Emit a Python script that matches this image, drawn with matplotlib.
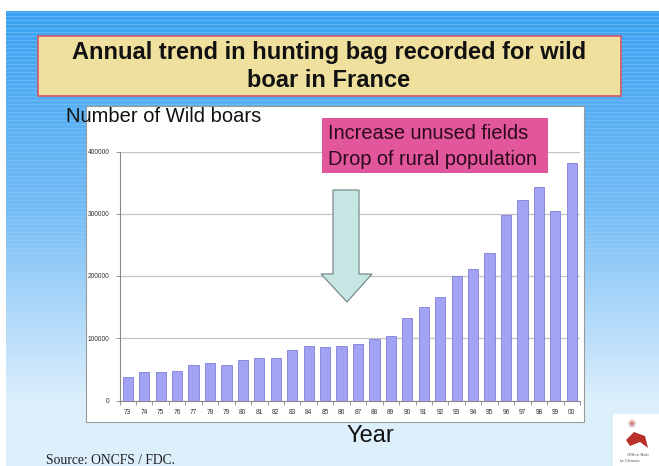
import numpy as np
import matplotlib
matplotlib.use("Agg")
import matplotlib.pyplot as plt
from matplotlib.patches import Rectangle, Polygon

years = ["73", "74", "75", "76", "77", "78", "79", "80", "81", "82", "83", "84", "85", "86",
         "87", "88", "89", "90", "91", "92", "93", "94", "95", "96", "97", "98", "99", "00"]
bag = [37000, 45500, 45500, 47000, 57000, 61000, 57000, 65000, 67500, 69000, 81000, 87500,
       86000, 87500, 90500, 99000, 104000, 132000, 151000, 166000, 200000, 211000, 237000,
       298000, 322000, 343000, 305000, 381000]
yticks = [0, 100000, 200000, 300000, 400000]

W, H = 659, 466
fig = plt.figure(figsize=(W / 100, H / 100), dpi=100)

def fx(x):
    return x / W

def fy(y):
    return 1 - y / H

# background
bg = fig.add_axes([0, 0, 1, 1])
bg.set_xlim(0, W)
bg.set_ylim(H, 0)
bg.axis("off")
img = np.ones((H, W, 3))
top = np.array([0x3a, 0xa2, 0xf1]) / 255
mid = np.array([0x74, 0xbc, 0xf6]) / 255
bot = np.array([0xdc, 0xef, 0xfb]) / 255
for r in range(11, H):
    t = (r - 11) / (400 - 11)
    t = min(t, 1.0)
    if t < 0.5:
        c = top + (mid - top) * (t / 0.5)
    else:
        c = mid + (bot - mid) * ((t - 0.5) / 0.5)
    if r % 4 == 0 and r < 380:
        c = c + (1 - c) * 0.2 * (1 - r / 380)
    img[r, 6:, :] = c
bg.imshow(img, extent=(0, W, H, 0), aspect="auto", interpolation="nearest")

# title box
bg.add_patch(Rectangle((38, 36), 583, 60, facecolor="#efe09d", edgecolor="#d0566a", lw=1.2))
bg.text(329, 66.5, "Annual trend in hunting bag recorded for wild\nboar in France",
        ha="center", va="center", fontsize=17, fontweight="bold",
        family="Liberation Sans", color="#111111", linespacing=1.3)

# white chart box
bg.add_patch(Rectangle((86, 106), 498, 316, facecolor="white", edgecolor="#9a9a9a", lw=0.8))

bg.text(66, 117, "Number of Wild boars", ha="left", va="center", fontsize=14.5,
        family="Liberation Sans", color="#111111")
bg.text(370, 436, "Year", ha="center", va="center", fontsize=17,
        family="Liberation Sans", color="#111111")
bg.text(46, 460, "Source: ONCFS / FDC.", ha="left", va="center", fontsize=9.8,
        family="Liberation Serif", color="#222222")

# logo area
bg.add_patch(Rectangle((613, 414), 46, 52, facecolor="white", edgecolor="none"))
bg.add_patch(Polygon([[626, 440], [634, 432], [645, 436], [648, 448], [640, 442], [630, 446]],
                     closed=True, facecolor="#b8322a", edgecolor="none"))
bg.text(628, 424, "\u2740", fontsize=7, color="#c87070", ha="left", va="center")
bg.text(627, 455, "Office Nati", fontsize=3, color="#555555", ha="left", va="center")
bg.text(620, 461, "la Chasse", fontsize=3, color="#555555", ha="left", va="center")

# chart axes
x0, x1 = 119.5, 580.0
y0, y1 = 400.5, 151.5
ax = fig.add_axes([fx(x0), fy(y0), fx(x1) - fx(x0), fy(y1) - fy(y0)])
ax.set_facecolor("none")
pos = np.arange(len(years))
ax.bar(pos, bag, width=0.62, color="#a3a3f5", edgecolor="#7f7fd6", linewidth=0.6, zorder=3)
ax.set_xlim(-0.5, len(years) - 0.5)
ax.set_ylim(0, 400000)
ax.set_yticks(yticks)
ax.set_yticklabels([str(v) for v in yticks], fontsize=4.8, color="#333333",
                   family="Liberation Sans")
ax.set_xticks(pos)
ax.set_xticklabels(years, fontsize=4.8, color="#333333", family="Liberation Sans")
ax.set_xticks(np.arange(-0.5, len(years), 1), minor=True)
ax.tick_params(axis="x", which="major", length=0, pad=6)
ax.tick_params(axis="x", which="minor", length=3, color="#888888", width=0.6)
ax.tick_params(axis="y", length=3, color="#888888", width=0.6, pad=4)
ax.grid(axis="y", color="#c4c4c4", lw=0.9, zorder=0)
for s in ["top", "right"]:
    ax.spines[s].set_visible(False)
for s in ["left", "bottom"]:
    ax.spines[s].set_color("#888888")
    ax.spines[s].set_linewidth(0.8)

# annotation box and arrow on top
ov = fig.add_axes([0, 0, 1, 1])
ov.set_xlim(0, W)
ov.set_ylim(H, 0)
ov.axis("off")
ov.add_patch(Rectangle((322, 118), 226, 55, facecolor="#e2569b", edgecolor="none"))
ov.text(328, 146.5, "Increase unused fields\nDrop of rural population", ha="left", va="center",
        fontsize=14.4, family="Liberation Sans", color="#2a0a1a", linespacing=1.45)
ov.add_patch(Polygon([[333, 190], [359, 190], [359, 274], [372, 274], [347, 302],
                      [321, 274], [333, 274]], closed=True,
                     facecolor="#c6e6e4", edgecolor="#7a8a8a", lw=0.9))

fig.savefig("out.png", dpi=100)
